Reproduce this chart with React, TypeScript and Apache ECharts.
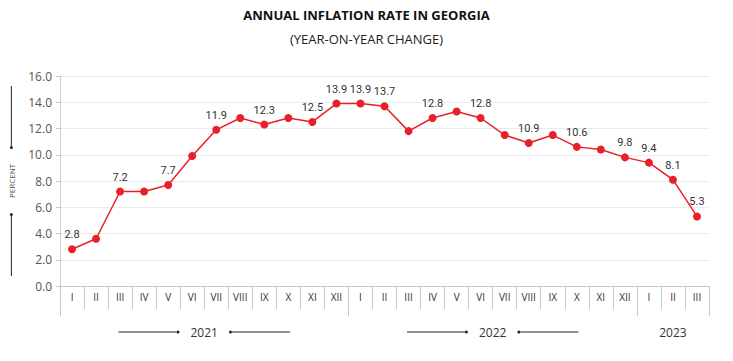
import React, { useEffect, useRef } from 'react';
import * as echarts from 'echarts';

const years = ['2021', '2022', '2023'];
const monthsPerYear = [12, 12, 3];
const monthNames = ['I', 'II', 'III', 'IV', 'V', 'VI', 'VII', 'VIII', 'IX', 'X', 'XI', 'XII'];
const inflation = [
  2.8, 3.6, 7.2, 7.2, 7.7, 9.9, 11.9, 12.8, 12.3, 12.8, 12.5, 13.9,
  13.9, 13.7, 11.8, 12.8, 13.3, 12.8, 11.5, 10.9, 11.5, 10.6, 10.4, 9.8,
  9.4, 8.1, 5.3,
];
const labeledPoints = [0, 2, 4, 6, 8, 10, 11, 12, 13, 15, 17, 19, 21, 23, 24, 25, 26];
const yMin = 0;
const yMax = 16;
const yInterval = 2;

const FONT = '"Open Sans", "Noto Sans", sans-serif';
const LABEL_FONT = 'Roboto, "Open Sans", sans-serif';

export default function App() {
  const ref = useRef<HTMLDivElement>(null);
  useEffect(() => {
    if (!ref.current) return;
    const chart = echarts.init(ref.current, null, { renderer: 'svg' });

    const categories: string[] = [];
    years.forEach((y, yi) => {
      for (let m = 0; m < monthsPerYear[yi]; m++) categories.push(y + '-' + monthNames[m]);
    });
    const boundaries: number[] = [0];
    const mids: number[] = [];
    let acc = 0;
    monthsPerYear.forEach((n) => {
      mids.push(acc + n / 2);
      acc += n;
      boundaries.push(acc);
    });
    const total = acc;

    const seriesData = inflation.map((v, i) => ({
      value: v,
      label: { show: labeledPoints.includes(i) },
    }));

    const lineRich = {
      l: { width: 58, height: 1, backgroundColor: '#222' },
      d: { width: 3, height: 3, borderRadius: 1.5, backgroundColor: '#222' },
      t: { fontSize: 12, color: '#333', padding: [0, 11], fontFamily: FONT },
    };

    chart.setOption({
      animation: false,
      backgroundColor: '#fff',
      textStyle: { fontFamily: FONT },
      title: [
        {
          text: 'ANNUAL INFLATION RATE IN GEORGIA',
          left: 'center',
          top: 3,
          textStyle: { fontSize: 13, fontWeight: 'bold', color: '#111', fontFamily: FONT },
        },
        {
          text: '(YEAR-ON-YEAR CHANGE)',
          left: 'center',
          top: 27,
          textStyle: { fontSize: 13, fontWeight: 'normal', color: '#222', fontFamily: FONT },
        },
      ],
      grid: {
        left: 60,
        right: 24,
        top: 76,
        bottom: 75,
        containLabel: false,
        outerBoundsMode: 'none',
      },
      xAxis: [
        {
          type: 'category',
          data: categories,
          boundaryGap: true,
          axisLine: { show: true, lineStyle: { color: '#c8c8c8' } },
          axisTick: { show: true, interval: 0, length: 23, lineStyle: { color: '#c8c8c8' } },
          axisLabel: {
            interval: 0,
            margin: 6,
            fontSize: 10,
            color: '#333',
            formatter: (v: string) => v.split('-')[1],
          },
          splitLine: { show: false },
        },
        {
          type: 'value',
          min: 0,
          max: total,
          position: 'bottom',
          axisLine: { show: false },
          splitLine: { show: false },
          axisTick: {
            show: true,
            customValues: boundaries,
            length: 30,
            lineStyle: { color: '#c8c8c8' },
          },
          axisLabel: {
            show: true,
            customValues: mids,
            margin: 40,
            formatter: (v: number) => {
              const idx = mids.findIndex((m) => Math.abs(m - v) < 1e-6);
              if (idx < 0) return '';
              if (monthsPerYear[idx] >= 12) return '{l|}{d|}{t|' + years[idx] + '}{d|}{l|}';
              return '{t|' + years[idx] + '}';
            },
            rich: lineRich,
          },
        },
      ],
      yAxis: {
        type: 'value',
        min: yMin,
        max: yMax,
        interval: yInterval,
        name: '{l|}{d|}{t|PERCENT}{d|}{l|}',
        nameLocation: 'middle',
        nameRotate: 90,
        nameGap: 44,
        nameTextStyle: {
          rich: {
            l: { width: 60, height: 1, backgroundColor: '#222' },
            d: { width: 3, height: 3, borderRadius: 1.5, backgroundColor: '#222' },
            t: { fontSize: 8, color: '#555', padding: [0, 15], fontFamily: FONT },
          },
        },
        axisLine: { show: true, lineStyle: { color: '#d0d0d0' } },
        axisTick: { show: true, length: 4, lineStyle: { color: '#c8c8c8' } },
        axisLabel: {
          fontSize: 12,
          color: '#555',
          margin: 8,
          formatter: (v: number) => v.toFixed(1),
        },
        splitLine: { show: true, lineStyle: { color: '#ebebeb' } },
      },
      series: [
        {
          type: 'line',
          data: seriesData,
          xAxisIndex: 0,
          yAxisIndex: 0,
          symbol: 'circle',
          symbolSize: 8,
          itemStyle: { color: '#e8202a' },
          lineStyle: { color: '#e8202a', width: 1.5 },
          label: {
            position: 'top',
            distance: 5,
            fontSize: 11,
            fontFamily: LABEL_FONT,
            color: '#333',
            formatter: (p: any) => Number(p.value).toFixed(1),
          },
        },
      ],
    });
    return () => chart.dispose();
  }, []);
  return (
    <div
      ref={ref}
      style={{ position: 'fixed', left: 0, top: 0, width: 733, height: 361 }}
    />
  );
}
